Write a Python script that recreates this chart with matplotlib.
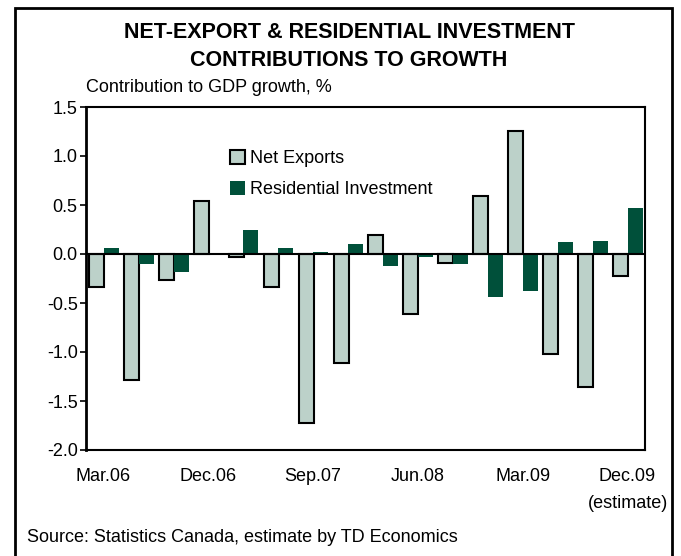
import numpy as np
import matplotlib
matplotlib.use("Agg")
import matplotlib.pyplot as plt
from matplotlib.patches import Rectangle

plt.rcParams['font.family'] = ['Liberation Sans', 'DejaVu Sans']

# quarterly data, Mar.06 .. Dec.09
quarters = ['Mar.06', 'Jun.06', 'Sep.06', 'Dec.06',
            'Mar.07', 'Jun.07', 'Sep.07', 'Dec.07',
            'Mar.08', 'Jun.08', 'Sep.08', 'Dec.08',
            'Mar.09', 'Jun.09', 'Sep.09', 'Dec.09']
net_exports = [-0.34, -1.29, -0.27, 0.54, -0.03, -0.34, -1.72, -1.11,
               0.19, -0.61, -0.09, 0.59, 1.26, -1.02, -1.36, -0.22]
residential = [0.06, -0.10, -0.18, 0.0, 0.24, 0.06, 0.02, 0.10,
               -0.12, -0.03, -0.10, -0.44, -0.38, 0.12, 0.13, 0.47]
tick_labels = ['Mar.06', 'Dec.06', 'Sep.07', 'Jun.08', 'Mar.09', 'Dec.09\n(estimate)']
tick_idx = [0, 3, 6, 9, 12, 15]

ne_color = '#bcd1c9'
ri_color = '#00503a'
fs = 13

fig = plt.figure(figsize=(6.81, 5.56), dpi=100)
ax = fig.add_axes([86 / 681, 106 / 556, 559 / 681, 343 / 556])

x = np.arange(len(quarters))
w = 0.43
ax.bar(x - 0.2, net_exports, width=w, color=ne_color, edgecolor='black',
       linewidth=1.5, label='Net Exports', zorder=2)
ax.bar(x + 0.22, residential, width=w, color=ri_color, edgecolor='none',
       label='Residential Investment', zorder=2)
ax.axhline(0, color='black', linewidth=1.5, zorder=3)

ax.set_xlim(-0.5, len(quarters) - 0.5)
ax.set_ylim(-2.0, 1.5)
yt = np.arange(-2.0, 1.51, 0.5)
ax.set_yticks(yt)
ax.set_yticklabels([f'{v:.1f}' for v in yt], fontsize=fs)
ax.tick_params(axis='y', direction='out', length=4, width=1.2, pad=2)
ax.set_xticks(tick_idx)
ax.set_xticklabels(tick_labels, fontsize=fs, linespacing=1.75)
ax.tick_params(axis='x', length=0, pad=13)
for s in ax.spines.values():
    s.set_linewidth(1.5)
ax.spines['left'].set_linewidth(2)

ax.legend(loc='upper left', bbox_to_anchor=(0.245, 0.895), frameon=False,
          fontsize=fs, handlelength=0.8, handleheight=0.8,
          handletextpad=0.3, labelspacing=0.75, borderaxespad=0)

fig.text(349 / 681, 1 - 33 / 556, 'NET-EXPORT & RESIDENTIAL INVESTMENT',
         ha='center', va='center', fontsize=15.5, fontweight='bold')
fig.text(349 / 681, 1 - 61 / 556, 'CONTRIBUTIONS TO GROWTH',
         ha='center', va='center', fontsize=15.5, fontweight='bold')
fig.text(86 / 681, 1 - 88 / 556, 'Contribution to GDP growth, %',
         ha='left', va='center', fontsize=fs)
fig.text(27 / 681, 1 - 537 / 556, 'Source: Statistics Canada, estimate by TD Economics',
         ha='left', va='center', fontsize=fs)

# outer frame (open at the bottom)
fig.add_artist(Rectangle((15 / 681, -0.05), 657 / 681, 1 - 8 / 556 + 0.05,
                         transform=fig.transFigure, fill=False,
                         edgecolor='black', linewidth=2))

fig.savefig('out.png', dpi=100)
